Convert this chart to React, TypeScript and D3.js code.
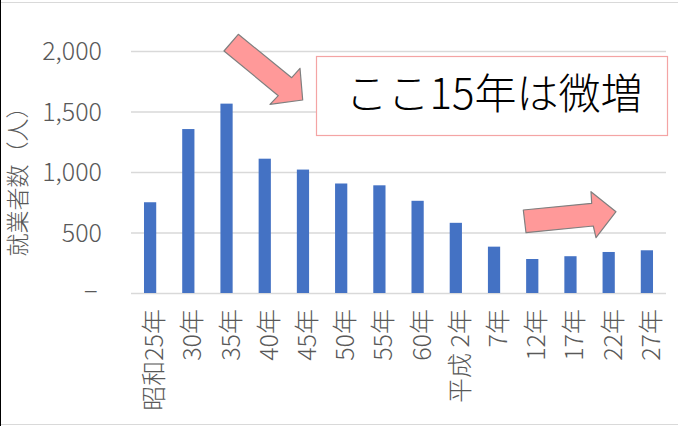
import * as d3 from "d3";

// 就業者数の推移（国勢調査年）
const categories = [
  "昭和25年", "30年", "35年", "40年", "45年", "50年", "55年",
  "60年", "平成 2年", "7年", "12年", "17年", "22年", "27年",
];
const workers = [750, 1355, 1565, 1110, 1020, 905, 890, 762, 580, 383, 281, 304, 339, 353];
const yTicks = [0, 500, 1000, 1500, 2000];

const W = 678;
const H = 426;
const font = '"Noto Sans CJK JP", "Noto Sans", sans-serif';

export default function App() {
  const x = d3.scaleBand<string>()
    .domain(categories)
    .range([131, 666])
    .paddingInner(0.68)
    .paddingOuter(0.34);

  const y = d3.scaleLinear().domain([0, 2000]).range([293, 51]);
  const fmt = d3.format(",");

  // annotation arrows (shapes, not data)
  const arrow1 = "238.3,34.3 291.7,77.7 300,68.3 302.7,100 270,104.3 278.3,95.7 224,51";
  const arrow2 = "523.3,210 591.7,203.3 591,191.7 616,211.7 596,237.7 593.3,226 526,232.7";

  return (
    <svg
      width={W}
      height={H}
      style={{ position: "absolute", left: 0, top: 0, background: "#fff" }}
      fontFamily={font}
      fontWeight={300}
    >
      {/* outer frame */}
      <line x1={0} x2={W} y1={2.5} y2={2.5} stroke="#d9d9d9" />
      <line x1={0} x2={W} y1={424.5} y2={424.5} stroke="#d9d9d9" />
      <line x1={0.5} x2={0.5} y1={0} y2={H} stroke="#000" />

      {/* gridlines */}
      {yTicks.map((t) => (
        <line key={t} x1={131} x2={666} y1={y(t) + 0.5} y2={y(t) + 0.5} stroke="#d9d9d9" strokeWidth={1.3} />
      ))}

      {/* y tick labels */}
      {yTicks.map((t) =>
        t === 0 ? (
          <text key={t} x={98} y={y(t)} dy="0.22em" textAnchor="end" fontSize={29}
            fontFamily="DejaVu Sans" fill="#595959">
            –
          </text>
        ) : (
          <text key={t} x={102} y={y(t)} dy="0.36em" textAnchor="end" fontSize={25} fill="#595959">
            {fmt(t)}
          </text>
        )
      )}

      {/* y axis title */}
      <text
        transform="translate(16,176) rotate(-90)"
        textAnchor="middle"
        dominantBaseline="central"
        fontSize={23}
        fill="#595959"
      >
        就業者数（人）
      </text>

      {/* bars */}
      {categories.map((c, i) => (
        <rect
          key={c}
          x={x(c)}
          y={y(workers[i])}
          width={x.bandwidth()}
          height={y(0) - y(workers[i])}
          fill="#4472C4"
        />
      ))}

      {/* x labels */}
      {categories.map((c) => (
        <text
          key={c}
          transform={`translate(${(x(c) ?? 0) + x.bandwidth() / 2 + 2},309) rotate(-90)`}
          textAnchor="end"
          dominantBaseline="central"
          fontSize={25}
          fill="#595959"
        >
          {c}
        </text>
      ))}

      {/* annotation box */}
      <rect x={316.5} y={56.5} width={351} height={79} fill="#fff" stroke="#f4a4a4" strokeWidth={1.2} />
      <text x={494} y={109} textAnchor="middle" fontSize={42} fill="#000">
        ここ15年は微増
      </text>

      {/* arrows */}
      <polygon points={arrow1} fill="#ff9999" stroke="#7f7f7f" strokeWidth={1.2} strokeLinejoin="round" />
      <polygon points={arrow2} fill="#ff9999" stroke="#7f7f7f" strokeWidth={1.2} strokeLinejoin="round" />
    </svg>
  );
}
